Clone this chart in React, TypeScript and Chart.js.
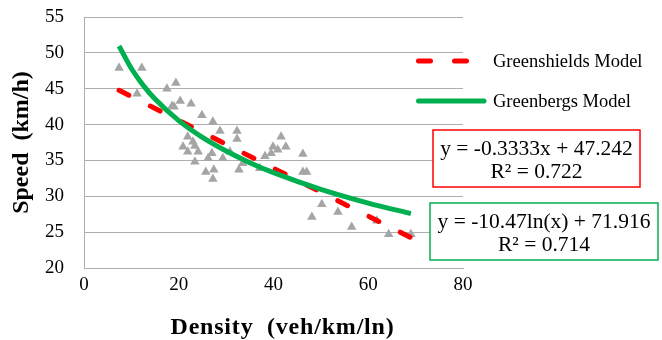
import { useEffect, useRef } from "react";
import { Chart, registerables } from "chart.js";

Chart.register(...registerables);

// Observed data (density veh/km/ln, speed km/h)
const densityObs = [
  7.4, 12.2, 11.2, 17.5, 19.4, 18.6, 19.0, 20.3, 22.6, 24.9, 27.2, 28.7, 32.3, 32.3,
  21.9, 23.0, 23.4, 20.9, 21.9, 24.1, 23.4, 27.0, 26.2, 29.3, 25.7, 27.4, 27.2, 32.7,
  33.5, 30.8, 41.6, 39.9, 40.9, 42.6, 39.5, 38.2, 37.1, 46.2, 46.2, 47.0, 50.2, 48.1,
  53.6, 56.5, 61.8, 64.3, 69.0,
];
const speedObs = [
  47.9, 47.9, 44.3, 45.0, 45.8, 42.6, 42.5, 43.3, 42.9, 41.3, 40.4, 39.1, 39.1, 38.0,
  38.3, 37.6, 37.0, 36.9, 36.2, 36.2, 34.8, 36.0, 35.3, 35.3, 33.4, 33.7, 32.4, 33.7,
  34.6, 36.2, 38.3, 36.9, 36.5, 36.9, 36.0, 35.6, 33.9, 35.9, 33.4, 33.4, 28.9, 27.1,
  27.8, 25.7, 26.6, 24.7, 24.7,
];

// Greenshields trendline (read at its two ends)
const greenshieldsX = [7.4, 69];
const greenshieldsY = [44.78, 24.24];

// Greenbergs trendline
const greenbergsX = [7.4, 10, 12.5, 15, 20, 25, 30, 35, 40, 50, 60, 69];
const greenbergsY = [50.96, 47.81, 45.47, 43.56, 40.55, 38.21, 36.31, 34.69, 33.29, 30.96, 29.05, 27.59];

const legendLabels = ["Greenshields Model", "Greenbergs Model"];
const eqGreenshields = ["y = -0.3333x + 47.242", "R² = 0.722"];
const eqGreenbergs = ["y = -10.47ln(x) + 71.916", "R² = 0.714"];

const xAxisTitle = "Density  (veh/km/ln)";
const yAxisTitle = "Speed  (km/h)";
const xTickRange = [0, 80, 20];
const yTickRange = [20, 55, 5];

const RED = "#FF0000";
const GREEN = "#00B050";
const GRAY_PT = "#A5A5A5";
const GRID = "#ADADAD";
const SERIF = '"Liberation Serif", "Times New Roman", serif';

// x-axis title: a little letter spacing and shifted right as in the reference
const titlePlugin = {
  id: "titleTweak",
  beforeDraw(chart: any) {
    const sx = chart.scales.x;
    if (sx && !sx.__wrapped) {
      const orig = sx.drawTitle.bind(sx);
      sx.drawTitle = () => {
        const ctx = chart.ctx as any;
        ctx.save();
        ctx.letterSpacing = "0.8px";
        ctx.translate(9, 0);
        orig();
        ctx.restore();
      };
      sx.__wrapped = true;
    }
  },
};

const overlayPlugin = {
  id: "overlay",
  afterDraw(chart: any) {
    const ctx = chart.ctx as CanvasRenderingContext2D;
    ctx.save();
    // legend
    ctx.lineWidth = 5;
    ctx.lineCap = "round";
    ctx.strokeStyle = RED;
    ctx.setLineDash([12, 24]);
    ctx.beginPath();
    ctx.moveTo(418.5, 61);
    ctx.lineTo(468, 61);
    ctx.stroke();
    ctx.setLineDash([]);
    ctx.strokeStyle = GREEN;
    ctx.beginPath();
    ctx.moveTo(418.5, 101);
    ctx.lineTo(484, 101);
    ctx.stroke();

    ctx.fillStyle = "#000";
    ctx.font = `18.5px ${SERIF}`;
    ctx.textBaseline = "middle";
    ctx.textAlign = "left";
    ctx.fillText(legendLabels[0], 493, 62);
    ctx.fillText(legendLabels[1], 493, 102);

    // equation boxes
    const box = (x: number, y: number, w: number, h: number, color: string, lines: string[]) => {
      ctx.fillStyle = "#fff";
      ctx.fillRect(x, y, w, h);
      ctx.lineWidth = 1.5;
      ctx.strokeStyle = color;
      ctx.strokeRect(x, y, w, h);
      ctx.fillStyle = "#000";
      ctx.textAlign = "center";
      ctx.font = `21.5px ${SERIF}`;
      ctx.fillText(lines[0], x + w / 2, y + 19);
      ctx.fillText(lines[1], x + w / 2, y + 42);
    };
    box(433, 130, 207, 57, RED, eqGreenshields);
    box(430, 203, 228, 57, GREEN, eqGreenbergs);
    ctx.restore();
  },
};

export default function App() {
  const ref = useRef<HTMLCanvasElement | null>(null);
  useEffect(() => {
    document.body.style.margin = "0";
    document.body.style.background = "#fff";
    const canvas = ref.current!;
    const obs = densityObs.map((x, i) => ({ x, y: speedObs[i] }));
    const gs = greenshieldsX.map((x, i) => ({ x, y: greenshieldsY[i] }));
    const gb = greenbergsX.map((x, i) => ({ x, y: greenbergsY[i] }));
    const chart = new Chart(canvas, {
      type: "scatter",
      data: {
        datasets: [
          {
            label: "Observed",
            data: obs,
            pointStyle: "triangle",
            pointRadius: 5.5,
            pointBackgroundColor: GRAY_PT,
            pointBorderWidth: 0,
            borderColor: GRAY_PT,
            order: 3,
          },
          {
            label: legendLabels[0],
            data: gs,
            showLine: true,
            pointRadius: 0,
            borderColor: RED,
            borderWidth: 5,
            borderDash: [11, 24],
            borderCapStyle: "round",
            order: 2,
          },
          {
            label: legendLabels[1],
            data: gb,
            showLine: true,
            pointRadius: 0,
            borderColor: GREEN,
            borderWidth: 5,
            cubicInterpolationMode: "monotone",
            borderCapStyle: "butt",
            order: 1,
          },
        ] as any,
      },
      options: {
        animation: false,
        responsive: false,
        maintainAspectRatio: false,
        layout: { padding: { left: 0, top: 17, right: 199, bottom: 0 } },
        plugins: {
          legend: { display: false },
          tooltip: { enabled: false },
        },
        scales: {
          x: {
            type: "linear",
            min: xTickRange[0],
            max: xTickRange[1],
            ticks: { stepSize: xTickRange[2], color: "#000", font: { family: SERIF, size: 19 }, padding: 6 },
            grid: { display: false, drawTicks: false },
            border: { display: true, color: GRID, width: 1 },
            title: {
              display: true,
              text: xAxisTitle,
              color: "#000",
              font: { family: SERIF, size: 24, weight: "bold" },
              padding: { top: 0, bottom: -2 },
            },
            afterFit: (s: any) => {
              s.height = 72;
              s.paddingLeft = 0;
              s.paddingRight = 0;
            },
          },
          y: {
            type: "linear",
            min: yTickRange[0],
            max: yTickRange[1],
            ticks: { stepSize: yTickRange[2], color: "#000", font: { family: SERIF, size: 19 }, padding: 20 },
            grid: { color: GRID, drawTicks: false, lineWidth: 1 },
            border: { display: true, color: GRID, width: 1 },
            title: {
              display: true,
              text: yAxisTitle,
              color: "#000",
              font: { family: SERIF, size: 24, weight: "bold" },
              padding: { top: 7, bottom: 0 },
            },
            afterFit: (s: any) => {
              s.width = 84;
              s.paddingTop = 0;
              s.paddingBottom = 0;
            },
          },
        },
      } as any,
      plugins: [titlePlugin, overlayPlugin],
    });
    return () => chart.destroy();
  }, []);
  return (
    <div style={{ width: 662, height: 340, background: "#fff" }}>
      <canvas ref={ref} width={662} height={340} style={{ display: "block" }} />
    </div>
  );
}
